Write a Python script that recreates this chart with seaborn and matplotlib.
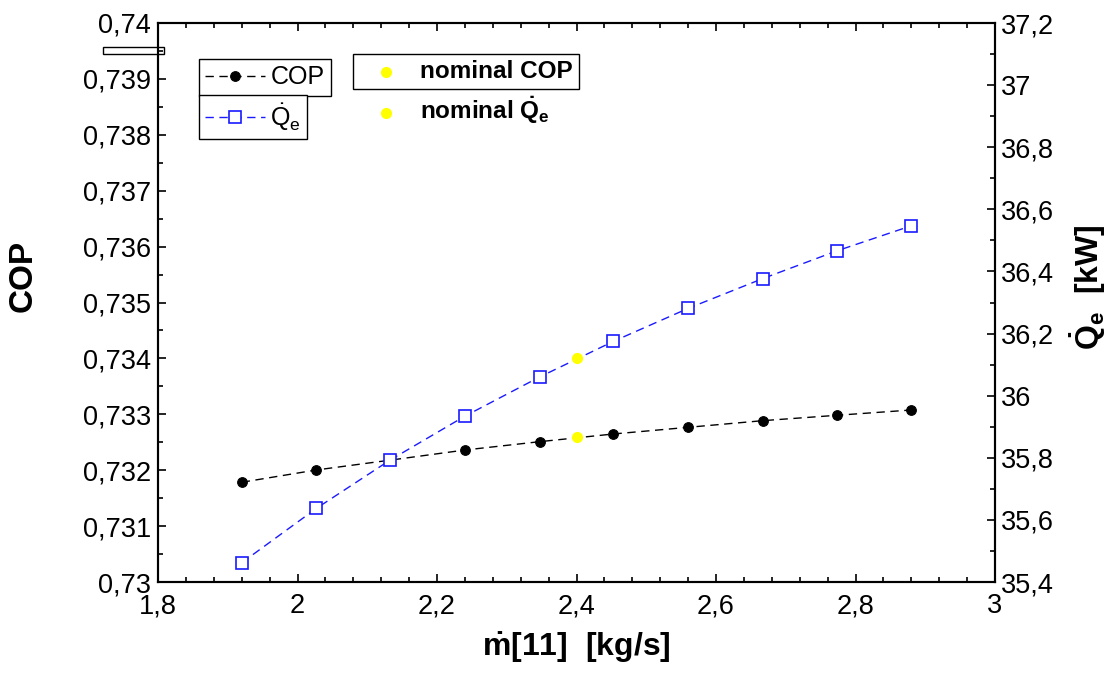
import numpy as np
import pandas as pd
import matplotlib
matplotlib.use("Agg")
import matplotlib.pyplot as plt
import matplotlib.ticker as mt
from matplotlib.patches import Rectangle
import seaborn as sns

# mass flow m[11] in kg/s
m_flow = [1.92, 2.027, 2.133, 2.24, 2.347, 2.453, 2.56, 2.667, 2.773, 2.88]
cop = [0.731784, 0.732004, 0.73218, 0.732361, 0.73251, 0.732648, 0.732767, 0.732886, 0.732982, 0.733077]
q_e = [35.462, 35.637, 35.793, 35.934, 36.060, 36.175, 36.281, 36.377, 36.466, 36.547]

# nominal operating point
m_nom = [2.4]
cop_nom = [0.732589]
q_nom = [36.120]

sns.set_style("ticks")
plt.rcParams['font.family'] = ['Liberation Sans', 'DejaVu Sans']
plt.rcParams['mathtext.fontset'] = 'custom'
plt.rcParams['mathtext.rm'] = 'Liberation Sans'
plt.rcParams['mathtext.it'] = 'Liberation Sans'
plt.rcParams['mathtext.bf'] = 'Liberation Sans:bold'
for k in ['text.color', 'axes.labelcolor', 'xtick.color', 'ytick.color', 'axes.edgecolor']:
    plt.rcParams[k] = 'black'

df = pd.DataFrame({'m': m_flow, 'cop': cop, 'q': q_e})

fig = plt.figure(figsize=(11.14, 6.75), dpi=100)
ax = fig.add_axes([158/1114, 1 - 582/675, 837/1114, 559/675])
ax2 = ax.twinx()

sns.lineplot(data=df, x='m', y='cop', ax=ax, color='black', linestyle=(0, (6, 4)), linewidth=1,
             marker='o', markersize=7, markeredgecolor='black', markerfacecolor='black', label='COP')
sns.lineplot(data=df, x='m', y='q', ax=ax2, color='#1a1aff', linestyle=(0, (6, 4)), linewidth=1,
             marker='s', markersize=9, markeredgecolor='#1a1aff', markerfacecolor='white',
             markeredgewidth=1.2, label=r'$\dot{Q}_e$')
sns.scatterplot(x=m_nom, y=cop_nom, ax=ax, color='#ffff00', s=65, linewidth=0,
                zorder=5, label='nominal COP')
sns.scatterplot(x=m_nom, y=q_nom, ax=ax2, color='#ffff00', s=65, linewidth=0,
                zorder=5, label=r'nominal $\mathbf{\dot{Q}_e}$')

ax.set_xlim(1.8, 3)
ax.set_ylim(0.73, 0.74)
ax2.set_ylim(35.4, 37.2)

def comma(v, pos):
    s = f"{round(v, 6):g}"
    return s.replace('.', ',')

ax.xaxis.set_major_locator(mt.MultipleLocator(0.2))
ax.xaxis.set_minor_locator(mt.MultipleLocator(0.04))
ax.yaxis.set_major_locator(mt.MultipleLocator(0.001))
ax.yaxis.set_minor_locator(mt.MultipleLocator(0.0005))
ax2.yaxis.set_major_locator(mt.MultipleLocator(0.2))
ax2.yaxis.set_minor_locator(mt.MultipleLocator(0.1))
for a in [ax.xaxis, ax.yaxis, ax2.yaxis]:
    a.set_major_formatter(mt.FuncFormatter(comma))

ax.tick_params(which='both', direction='in', top=True, right=False, labelsize=19.5, width=1.2, pad=5)
ax.tick_params(which='major', length=6)
ax.tick_params(which='minor', length=3.5)
ax.tick_params(axis='x', pad=8)
ax2.tick_params(which='both', direction='in', labelsize=19.5, width=1.2, pad=4)
ax2.tick_params(which='major', length=6)
ax2.tick_params(which='minor', length=3.5)

for a in [ax, ax2]:
    for sp in a.spines.values():
        sp.set_linewidth(1.5)
        sp.set_color('black')

ax.set_xlabel(r'$\mathbf{\dot{m}}$[11]  [kg/s]', fontsize=23, fontweight='bold', labelpad=8)
ax.set_ylabel('COP', fontsize=24, fontweight='bold')
ax.yaxis.set_label_coords(-0.143, 0.547)
ax2.set_ylabel(r'$\mathbf{\dot{Q}_e}$  [kW]', fontsize=23, fontweight='bold')
ax2.yaxis.set_label_coords(1.087, 0.528)

# legends, each framed on its own like the original
h1, l1 = ax.get_legend_handles_labels()
h2, l2 = ax2.get_legend_handles_labels()
if ax.get_legend():
    ax.get_legend().remove()
if ax2.get_legend():
    ax2.get_legend().remove()

leg_kw = dict(fancybox=False, framealpha=1, edgecolor='black', borderpad=0.25,
              handlelength=2.4, handletextpad=0.2, borderaxespad=0)
fr = fig.transFigure
legs = []
legs.append(fig.legend([h1[0]], [l1[0]], loc='upper left', bbox_to_anchor=(199/1114, 1 - 59/675),
                       prop={'size': 18}, **leg_kw))
legs.append(fig.legend([h2[0]], [l2[0]], loc='upper left', bbox_to_anchor=(199/1114, 1 - 95/675),
                       prop={'size': 18}, **leg_kw))
nom_kw = dict(leg_kw, handlelength=2.2, handletextpad=0.3)
legs.append(fig.legend([h1[1]], [l1[1]], loc='upper left', bbox_to_anchor=(353/1114, 1 - 54/675),
                       prop={'size': 17.5, 'weight': 'bold'}, **nom_kw))
legs.append(fig.legend([h2[1]], [l2[1]], loc='upper left', bbox_to_anchor=(353/1114, 1 - 89/675),
                       prop={'size': 17.5, 'weight': 'bold'}, frameon=False,
                       **{k: v for k, v in nom_kw.items() if k not in ('fancybox', 'framealpha', 'edgecolor')}))
for lg in legs:
    lg.get_frame().set_linewidth(1.0)

# small stray empty box at the top left
fig.patches.append(Rectangle((103/1114, 1 - 54/675), 61/1114, 7.5/675, transform=fr,
                             fill=False, edgecolor='black', linewidth=1.0))

fig.savefig('out.png', dpi=100)
